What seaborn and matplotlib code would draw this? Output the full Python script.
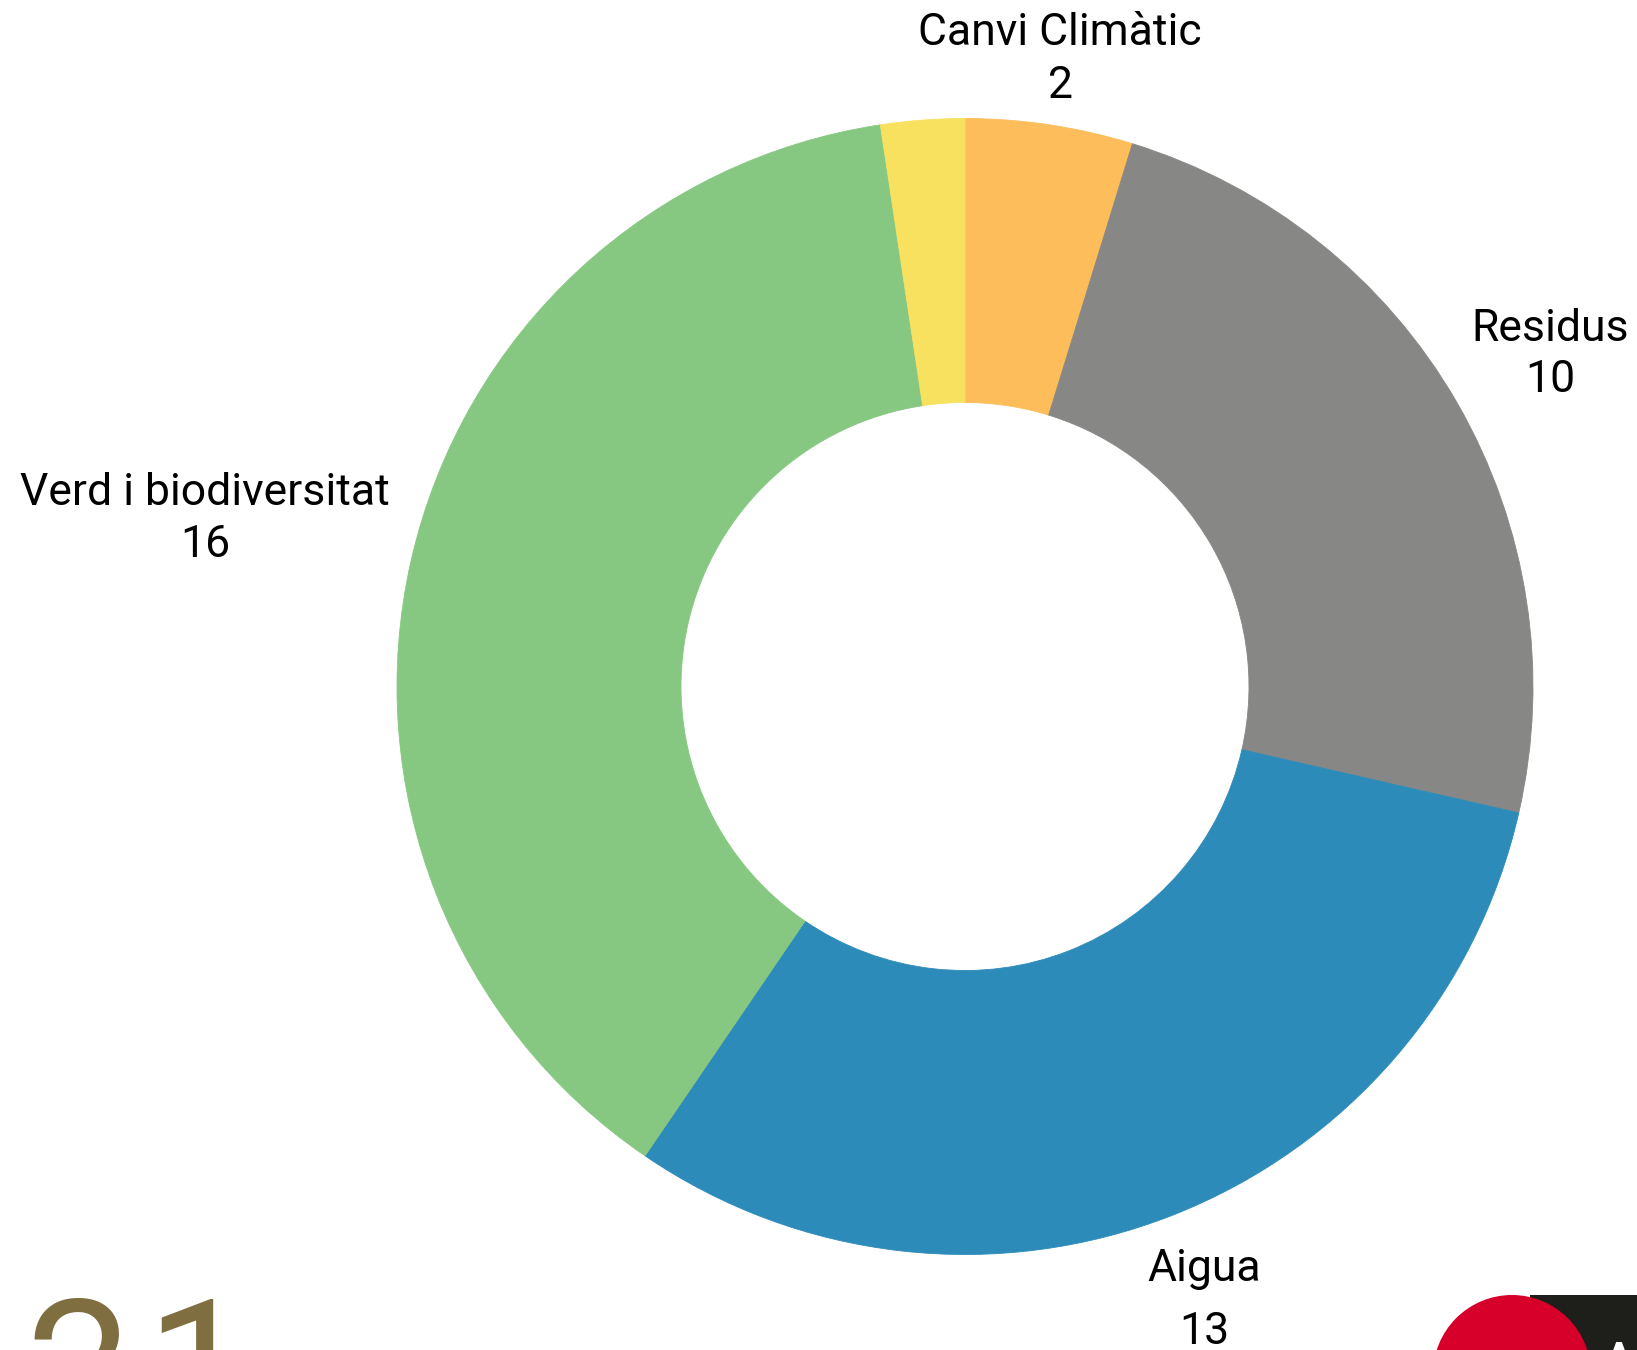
import matplotlib
matplotlib.use('Agg')
import matplotlib.pyplot as plt
import seaborn as sns
from matplotlib.patches import Circle, Rectangle

# Data
categories = ['Canvi Climàtic', 'Residus', 'Aigua', 'Verd i biodiversitat', '']
values = [2, 10, 13, 16, 1]
colors = ['#FDBD5A', '#878785', '#2D8BBA', '#86C882', '#F9E160']

# label baselines (pixels from top) and centres
label_x = [1060, 1550, 1204, 205]
label_base = [(45, 98), (341, 392), (1281, 1344), (505, 557)]

W, H = 1637, 1350

sns.set_theme(style='white')
plt.rcParams['font.family'] = ['Roboto', 'DejaVu Sans']

fig = plt.figure(figsize=(W / 100, H / 100), dpi=100)
ax = fig.add_axes([0, 0, 1, 1])
ax.set_xlim(0, W)
ax.set_ylim(0, H)
ax.axis('off')

cx, cy, R = 965, H - 686.5, 568
wedges, _ = ax.pie(values, colors=sns.color_palette(colors), startangle=90,
                   counterclock=False, center=(cx, cy), radius=R,
                   wedgeprops=dict(width=R * 0.5, linewidth=0))
for w in wedges:
    w.set_edgecolor(w.get_facecolor())
    w.set_linewidth(0.6)
ax.set_xlim(0, W)
ax.set_ylim(0, H)

for name, val, x, (b1, b2) in zip(categories, values, label_x, label_base):
    ax.text(x, H - b1, name, ha='center', va='baseline', fontsize=32, color='black')
    ax.text(x, H - b2, str(val), ha='center', va='baseline', fontsize=32, color='black')

# page decorations cut by the crop
ax.text(25, H - 1435, '2', ha='left', va='baseline', fontsize=136,
        color='#7F6E40', clip_on=False)
ax.text(145, H - 1435, '1', ha='left', va='baseline', fontsize=136,
        color='#7F6E40', clip_on=False)
ax.add_patch(Rectangle((1530, H - 1420), 130, 125, facecolor='#1E1E1A', edgecolor='none'))
ax.add_patch(Circle((1512, H - 1374), 79, facecolor='#D6002A', edgecolor='none'))
ax.text(1605, H - 1372, 'A', ha='left', va='baseline', fontsize=30,
        color='white', fontweight='bold')

fig.savefig('out.png', dpi=100, facecolor='white')
